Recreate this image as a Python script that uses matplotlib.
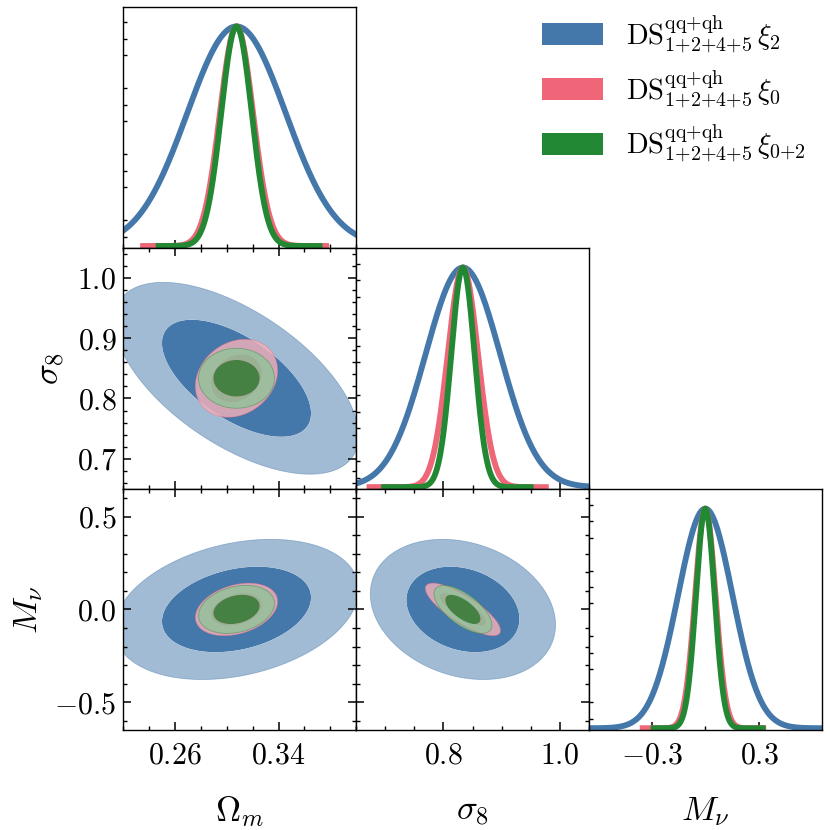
import numpy as np
import matplotlib
matplotlib.use("Agg")
import matplotlib.pyplot as plt
from matplotlib.ticker import MultipleLocator, FuncFormatter
from matplotlib.patches import Patch

plt.rcParams["mathtext.fontset"] = "cm"
plt.rcParams["font.family"] = "serif"
plt.rcParams["font.serif"] = ["DejaVu Serif"]

# parameters
param_labels = [r"$\Omega_m$", r"$\sigma_8$", r"$M_\nu$"]
limits = [(0.22, 0.40), (0.65, 1.05), (-0.65, 0.65)]
fiducial = [0.3075, 0.8335, 0.0]

# chains: xi2, xi0, xi0+2
chain_labels = [r"$\mathrm{DS}^{\mathrm{qq{+}qh}}_{1{+}2{+}4{+}5}\,\xi_2$",
                r"$\mathrm{DS}^{\mathrm{qq{+}qh}}_{1{+}2{+}4{+}5}\,\xi_0$",
                r"$\mathrm{DS}^{\mathrm{qq{+}qh}}_{1{+}2{+}4{+}5}\,\xi_{0{+}2}$"]
colors = ["#4477AA", "#EE6677", "#228833"]
alphas = [1.0, 0.8, 0.8]

# 1-sigma errors on (Om, s8, Mnu)
sig_xi2 = [0.038, 0.064, 0.152]
sig_xi0 = [0.0128, 0.026, 0.057]
sig_xi02 = [0.0118, 0.020, 0.052]

# correlation coefficients for (Om,s8), (Om,Mnu), (s8,Mnu)
rho_xi2 = [-0.60, 0.28, -0.22]
rho_xi0 = [0.20, 0.30, -0.80]
rho_xi02 = [0.00, 0.25, -0.65]

# extent of the 1D marginal curves
range_xi2 = [(0.10, 0.52), (0.40, 1.30), (-1.2, 1.2)]
range_xi0 = [(0.233, 0.379), (0.668, 0.981), (-0.366, 0.340)]
range_xi02 = [(0.245, 0.374), (0.693, 0.955), (-0.305, 0.337)]

sigmas = [sig_xi2, sig_xi0, sig_xi02]
rhos = [rho_xi2, rho_xi0, rho_xi02]
ranges = [range_xi2, range_xi0, range_xi02]
pair_index = {(0, 1): 0, (0, 2): 1, (1, 2): 2}

x_major = [MultipleLocator(0.08, offset=0.02), MultipleLocator(0.2), MultipleLocator(0.6, offset=0.3)]
x_minor = [MultipleLocator(0.02), MultipleLocator(0.05), MultipleLocator(0.3)]
y_major = [None, MultipleLocator(0.1), MultipleLocator(0.5)]
y_minor = [None, MultipleLocator(0.02), MultipleLocator(0.1)]
fmts = ["%.2f", "%.1f", "%.1f"]


def lighten(c, f=0.5):
    r = np.array(matplotlib.colors.to_rgb(c))
    return tuple(1 - (1 - r) * f)


def mathfmt(f):
    return FuncFormatter(lambda v, pos: "$" + (f % v) + "$")


fig, axes = plt.subplots(3, 3, figsize=(8.3, 8.3), dpi=100,
                         gridspec_kw=dict(left=0.1486, right=0.990, bottom=0.1205,
                                          top=0.992, wspace=0, hspace=0))

for row in range(3):
    for col in range(3):
        ax = axes[row, col]
        if col > row:
            ax.axis("off")
            continue
        for s in ax.spines.values():
            s.set_linewidth(1.0)
        ax.set_xlim(limits[col])
        ax.xaxis.set_major_locator(x_major[col])
        ax.xaxis.set_minor_locator(x_minor[col])
        ax.xaxis.set_major_formatter(mathfmt(fmts[col]))
        if row == col:
            # marginal
            for k in range(3):
                lo, hi = ranges[k][col]
                x = np.linspace(lo, hi, 500)
                y = np.exp(-0.5 * ((x - fiducial[col]) / sigmas[k][col]) ** 2)
                ax.plot(x, y, color=colors[k], lw=4.2, solid_capstyle="butt")
            ax.set_ylim(-0.008, 1.09)
            ax.yaxis.set_major_locator(MultipleLocator(0.3, offset=0.193))
            ax.yaxis.set_minor_locator(MultipleLocator(0.075, offset=0.043))
            ax.tick_params(axis="y", which="major", length=0)
            ax.tick_params(axis="y", which="minor", direction="in", length=3, width=1.0, left=True, right=False)
            ax.tick_params(axis="x", which="major", direction="in", length=6, width=1.1, top=False)
            ax.tick_params(axis="x", which="minor", direction="in", length=3, width=1.0, top=False)
            ax.set_yticklabels([])
        else:
            ax.set_ylim(limits[row])
            ax.yaxis.set_major_locator(y_major[row])
            ax.yaxis.set_minor_locator(y_minor[row])
            ax.yaxis.set_major_formatter(mathfmt(fmts[row]))
            gx = np.linspace(limits[col][0], limits[col][1], 400)
            gy = np.linspace(limits[row][0], limits[row][1], 400)
            X, Y = np.meshgrid(gx, gy)
            p = pair_index[(col, row)]
            for k in range(3):
                rho = rhos[k][p]
                dx = (X - fiducial[col]) / sigmas[k][col]
                dy = (Y - fiducial[row]) / sigmas[k][row]
                Z = (dx ** 2 - 2 * rho * dx * dy + dy ** 2) / (1 - rho ** 2)
                ax.contourf(X, Y, Z, levels=[0, 2.30, 6.18],
                            colors=[colors[k], lighten(colors[k])], alpha=alphas[k],
                            antialiased=True)
                ax.contour(X, Y, Z, levels=[6.18], colors=[colors[k]],
                           linewidths=0.6, alpha=0.45)
            ax.tick_params(which="both", direction="in", top=True, right=True)
            ax.tick_params(which="major", length=6, width=1.1)
            ax.tick_params(which="minor", length=3, width=1.0)
        ax.tick_params(axis="x", labelsize=21.5, pad=8)
        ax.tick_params(axis="y", labelsize=21.5, pad=5)
        if row < 2:
            ax.tick_params(axis="x", labelbottom=False)
        else:
            ax.set_xlabel(param_labels[col], fontsize=25, labelpad=18)
        if col > 0 or row == 0:
            ax.tick_params(axis="y", labelleft=False)
        else:
            ax.set_ylabel(param_labels[row], fontsize=25, labelpad=7)

handles = [Patch(facecolor=c, edgecolor="none") for c in colors]
fig.legend(handles, chain_labels, loc="upper left", bbox_to_anchor=(542 / 830, 1 - 13 / 830),
           frameon=False, fontsize=20.5, handlelength=2.15, handleheight=0.8,
           labelspacing=0.45, borderpad=0, handletextpad=0.8, borderaxespad=0)

fig.savefig("out.png", dpi=100)
